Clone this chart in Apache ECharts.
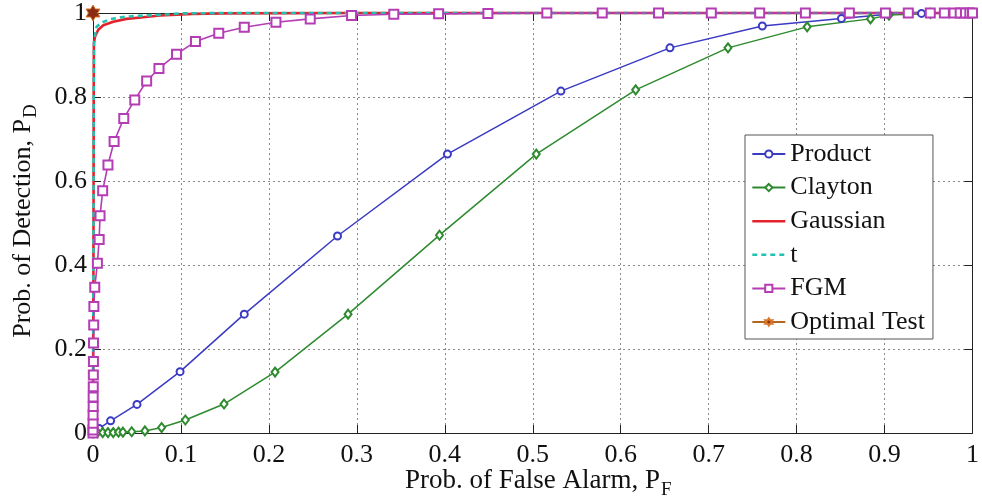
<!DOCTYPE html>
<html>
<head>
<meta charset="utf-8">
<script src="https://cdn.jsdelivr.net/npm/echarts@6/dist/echarts.min.js"></script>
<style>
  html, body { margin: 0; padding: 0; background: #fff; }
  #chart { width: 982px; height: 503px; }
</style>
</head>
<body>
<div id="chart"></div>
<script>
// Axis ticks
const xTicks = [0, 0.1, 0.2, 0.3, 0.4, 0.5, 0.6, 0.7, 0.8, 0.9, 1];
const yTicks = [0, 0.2, 0.4, 0.6, 0.8, 1];

// ROC curves: probability of false alarm (x) vs. probability of detection (y)
const productPF = [0, 0.007, 0.020, 0.050, 0.099, 0.172, 0.278, 0.403, 0.532, 0.656, 0.761, 0.851, 0.904, 0.942, 0.976, 1];
const productPD = [0, 0.011, 0.029, 0.068, 0.146, 0.283, 0.469, 0.664, 0.814, 0.917, 0.969, 0.987, 0.997, 0.999, 1, 1];

const claytonPF = [0, 0.005, 0.011, 0.017, 0.023, 0.029, 0.034, 0.044, 0.059, 0.078, 0.105, 0.149, 0.207, 0.290, 0.394, 0.504, 0.617, 0.722, 0.812, 0.884, 0.905, 0.952, 0.985, 1];
const claytonPD = [0, 0.001, 0.001, 0.001, 0.001, 0.002, 0.002, 0.003, 0.005, 0.013, 0.031, 0.069, 0.145, 0.283, 0.471, 0.664, 0.817, 0.917, 0.967, 0.986, 0.995, 0.999, 1, 1];

const gaussianPF = [0, 0.0005, 0.0008, 0.001, 0.0023, 0.006, 0.0117, 0.023, 0.038, 0.057, 0.076, 0.095, 0.113, 0.15, 0.3, 0.5, 0.7, 1];
const gaussianPD = [0, 0.4, 0.8, 0.928, 0.944, 0.96, 0.971, 0.979, 0.986, 0.990, 0.994, 0.996, 0.998, 0.999, 1, 1, 1, 1];

const tPF = [0, 0.0005, 0.0008, 0.0012, 0.004, 0.0098, 0.019, 0.032, 0.049, 0.068, 0.087, 0.098, 0.15, 0.3, 0.5, 0.7, 1];
const tPD = [0, 0.4, 0.8, 0.935, 0.967, 0.977, 0.985, 0.990, 0.993, 0.995, 0.997, 0.999, 1, 1, 1, 1, 1];

const fgmPF = [0, 0, 0.0001, 0.0001, 0.0002, 0.0002, 0.0003, 0.0004, 0.0005, 0.0006, 0.0008, 0.001, 0.002, 0.005, 0.007, 0.008, 0.011, 0.017, 0.024, 0.035, 0.0475, 0.061, 0.075, 0.095, 0.1165, 0.143, 0.172, 0.208, 0.247, 0.294, 0.342, 0.393, 0.449, 0.516, 0.579, 0.643, 0.703, 0.758, 0.810, 0.860, 0.901, 0.927, 0.952, 0.968, 0.979, 0.986, 0.992, 0.997, 1];
const fgmPD = [0, 0.007, 0.023, 0.043, 0.063, 0.086, 0.110, 0.138, 0.170, 0.214, 0.257, 0.301, 0.347, 0.404, 0.461, 0.517, 0.577, 0.638, 0.694, 0.749, 0.793, 0.838, 0.868, 0.902, 0.932, 0.952, 0.966, 0.978, 0.986, 0.994, 0.997, 0.998, 0.999, 1, 1, 1, 1, 1, 1, 1, 1, 1, 1, 1, 1, 1, 1, 1, 1];

const optimalPF = [0];
const optimalPD = [1];

const seriesNames = ['Product', 'Clayton', 'Gaussian', 't', 'FGM', 'Optimal Test'];

function pairs(xs, ys) { return xs.map((x, i) => [x, ys[i]]); }

const FONT = '"Liberation Serif", "Times New Roman", serif';
const HEXAGRAM = 'path://M10 0 L12.887 5 L18.66 5 L15.77 10 L18.66 15 L12.887 15 L10 20 L7.113 15 L1.34 15 L4.23 10 L1.34 5 L7.113 5 Z';
const CLEAR = 'rgba(0,0,0,0)';

// thicker legend strokes for the plain curves
const legendItems = seriesNames.map(name =>
  (name === 'Gaussian' || name === 't') ? { name: name, lineStyle: { width: 2.6 } } : { name: name }
);

const chart = echarts.init(document.getElementById('chart'), null, { renderer: 'canvas' });

const gridLine = { show: true, lineStyle: { color: '#8a8a8a', type: [2, 3], width: 1 } };
const axisLine = { show: true, onZero: false, lineStyle: { color: '#222', width: 1 } };

chart.setOption({
  backgroundColor: '#fff',
  animation: false,
  grid: { left: 93, right: 5, top: 13, bottom: 70, containLabel: false },
  xAxis: [
    {
      type: 'value', min: 0, max: 1, interval: 0.1, position: 'bottom',
      axisLine: axisLine,
      axisTick: { inside: true, length: 8, lineStyle: { color: '#222' }, customValues: xTicks },
      axisLabel: { color: '#111', fontFamily: FONT, fontSize: 26, margin: 9, customValues: xTicks },
      splitLine: gridLine
    },
    {
      type: 'value', min: 0, max: 1, interval: 0.1, position: 'top',
      axisLine: axisLine,
      axisTick: { inside: true, length: 8, lineStyle: { color: '#222' }, customValues: xTicks },
      axisLabel: { show: false },
      splitLine: { show: false }
    }
  ],
  yAxis: [
    {
      type: 'value', min: 0, max: 1, interval: 0.2, position: 'left',
      axisLine: axisLine,
      axisTick: { inside: true, length: 8, lineStyle: { color: '#222' }, customValues: yTicks },
      axisLabel: { color: '#111', fontFamily: FONT, fontSize: 26, margin: 6, customValues: yTicks },
      splitLine: gridLine
    },
    {
      type: 'value', min: 0, max: 1, interval: 0.2, position: 'right',
      axisLine: axisLine,
      axisTick: { inside: true, length: 8, lineStyle: { color: '#222' }, customValues: yTicks },
      axisLabel: { show: false },
      splitLine: { show: false }
    }
  ],
  legend: {
    orient: 'vertical',
    left: 745, top: 135,
    padding: [6, 8, 4, 6],
    itemWidth: 33, itemHeight: 9, itemGap: 7.6,
    backgroundColor: '#fff',
    borderColor: '#555', borderWidth: 1, borderRadius: 0,
    textStyle: { fontFamily: FONT, fontSize: 26, color: '#111', lineHeight: 25 },
    data: legendItems
  },
  graphic: [
    {
      type: 'text', x: 660, y: 481,
      style: { text: 'Prob. of False Alarm, P', font: '27px ' + FONT, fill: '#111', textAlign: 'right', textVerticalAlign: 'middle' }
    },
    {
      type: 'text', x: 661, y: 490,
      style: { text: 'F', font: '19px ' + FONT, fill: '#111', textAlign: 'left', textVerticalAlign: 'middle' }
    },
    {
      type: 'group', x: 23, y: 119, rotation: Math.PI / 2,
      children: [
        { type: 'text', x: 0, y: 0, style: { text: 'Prob. of Detection, P', font: '26px ' + FONT, fill: '#111', textAlign: 'right', textVerticalAlign: 'middle' } },
        { type: 'text', x: 1, y: 8, style: { text: 'D', font: '19px ' + FONT, fill: '#111', textAlign: 'left', textVerticalAlign: 'middle' } }
      ]
    }
  ],
  series: [
    {
      name: 'Product', type: 'line', data: pairs(productPF, productPD), clip: false,
      symbol: 'emptyCircle', symbolSize: 7, showAllSymbol: true,
      lineStyle: { color: '#3a3ac4', width: 1.5 },
      itemStyle: { color: '#3a3ac4', borderWidth: 1.3 }
    },
    {
      name: 'Clayton', type: 'line', data: pairs(claytonPF, claytonPD), clip: false,
      symbol: 'emptyDiamond', symbolSize: [7, 9], showAllSymbol: true,
      lineStyle: { color: '#2e8a2e', width: 1.5 },
      itemStyle: { color: '#2e8a2e', borderWidth: 1.3 }
    },
    {
      name: 'Gaussian', type: 'line', data: pairs(gaussianPF, gaussianPD), clip: false,
      symbol: 'circle', showSymbol: false,
      lineStyle: { color: '#e3222b', width: 2.6 },
      itemStyle: { color: CLEAR }
    },
    {
      name: 't', type: 'line', data: pairs(tPF, tPD), clip: false,
      symbol: 'circle', showSymbol: false,
      lineStyle: { color: '#22c2b2', width: 2.6, type: [5, 4] },
      itemStyle: { color: CLEAR }
    },
    {
      name: 'FGM', type: 'line', data: pairs(fgmPF, fgmPD), clip: false,
      symbol: 'emptyRect', symbolSize: 9, showAllSymbol: true,
      lineStyle: { color: '#b43cb4', width: 1.6 },
      itemStyle: { color: '#b43cb4', borderWidth: 1.3 }
    },
    {
      name: 'Optimal Test', type: 'line', data: pairs(optimalPF, optimalPD), clip: false,
      symbol: HEXAGRAM, symbolSize: 16, symbolKeepAspect: true, showAllSymbol: true,
      lineStyle: { color: '#b5651d', width: 1.5 },
      itemStyle: { color: '#8b2a12', borderColor: '#d9772a', borderWidth: 1 }
    }
  ]
});
</script>
</body>
</html>
